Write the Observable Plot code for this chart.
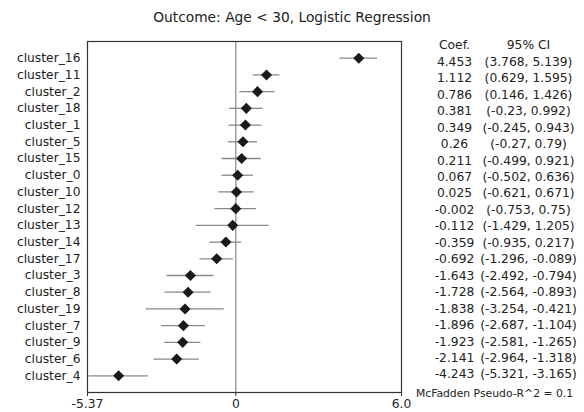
<!DOCTYPE html>
<html>
<head>
<meta charset="utf-8">
<script src="https://cdn.jsdelivr.net/npm/d3@7"></script>
<script src="https://cdn.jsdelivr.net/npm/@observablehq/plot@0.6"></script>
<style>
  html, body { margin: 0; padding: 0; background: #fff; }
  #wrap { position: relative; width: 584px; height: 412px; font-family: "DejaVu Sans", sans-serif; color: #222; }
  #title { height: 33px; line-height: 34px; text-align: center; font-size: 13.8px; }
  #main, #table { position: absolute; top: 33px; }
  #main { left: 0; }
  #table { left: 401px; }
  svg { overflow: visible; }
</style>
</head>
<body>
<div id="wrap">
  <div id="title">Outcome: Age &lt; 30, Logistic Regression</div>
  <div id="main"></div>
  <div id="table"></div>
</div>
<script>
const clusters = ["cluster_16","cluster_11","cluster_2","cluster_18","cluster_1","cluster_5","cluster_15","cluster_0","cluster_10","cluster_12","cluster_13","cluster_14","cluster_17","cluster_3","cluster_8","cluster_19","cluster_7","cluster_9","cluster_6","cluster_4"];
const coef  = [4.453, 1.112, 0.786, 0.381, 0.349, 0.26, 0.211, 0.067, 0.025, -0.002, -0.112, -0.359, -0.692, -1.643, -1.728, -1.838, -1.896, -1.923, -2.141, -4.243];
const ciLow = [3.768, 0.629, 0.146, -0.23, -0.245, -0.27, -0.499, -0.502, -0.621, -0.753, -1.429, -0.935, -1.296, -2.492, -2.564, -3.254, -2.687, -2.581, -2.964, -5.321];
const ciHigh= [5.139, 1.595, 1.426, 0.992, 0.943, 0.79, 0.921, 0.636, 0.671, 0.75, 1.205, 0.217, -0.089, -0.794, -0.893, -0.421, -1.104, -1.265, -1.318, -3.165];
const xDomain = [-5.37, 6.0];
const xTicks = [-5.37, 0, 6.0];
const xTickLabels = ["-5.37", "0", "6.0"];
const tableHeaders = ["Coef.", "95% CI"];
const footnote = "McFadden Pseudo-R^2 = 0.1";

const rows = clusters.map((c, i) => ({cluster: c, coef: coef[i], lo: ciLow[i], hi: ciHigh[i]}));

const font = "DejaVu Sans, sans-serif";
const tickFmt = (d) => xTickLabels[xTicks.indexOf(d)];

const main = Plot.plot({
  width: 584,
  height: 379,
  marginLeft: 87,
  marginRight: 183,
  marginTop: 8,
  marginBottom: 20,
  style: {fontFamily: font, fontSize: "12.3px", color: "#222", background: "transparent"},
  x: {domain: xDomain, ticks: xTicks, tickFormat: tickFmt, label: null},
  y: {type: "point", domain: clusters, padding: 1, round: false, label: null},
  marks: [
    Plot.ruleX([0], {stroke: "#888", strokeWidth: 1.2}),
    Plot.ruleY(rows, {y: "cluster", x1: "lo", x2: "hi", stroke: "#888", strokeWidth: 1.3}),
    Plot.dot(rows, {x: "coef", y: "cluster", symbol: "diamond2", r: 5, fill: "#1a1a1a", stroke: "none"}),
    Plot.frame({stroke: "#333", strokeWidth: 1.2}),
    Plot.axisX({ticks: xTicks, tickFormat: tickFmt, tickSize: 4, tickPadding: 3, stroke: "#333", fill: "#222", fontSize: 12.3}),
    Plot.axisY({tickSize: 0, tickPadding: 7, fill: "#222", fontSize: 12.3})
  ]
});
document.getElementById("main").appendChild(main);

// Table to the right
const rowKeys = ["header", ...clusters];
const tableData = [];
tableHeaders.forEach((h) => tableData.push({row: "header", col: h, text: h}));
rows.forEach((r) => {
  tableData.push({row: r.cluster, col: tableHeaders[0], text: String(r.coef)});
  tableData.push({row: r.cluster, col: tableHeaders[1], text: "(" + String(r.lo) + ", " + String(r.hi) + ")"});
});

const table = Plot.plot({
  width: 183,
  height: 379,
  marginLeft: 53,
  marginRight: 56,
  marginTop: 12,
  marginBottom: 38,
  style: {fontFamily: font, background: "transparent"},
  x: {type: "point", domain: tableHeaders, padding: 0, round: false, axis: null},
  y: {type: "point", domain: rowKeys, padding: 0, round: false, axis: null},
  marks: [
    Plot.text(tableData, {x: "col", y: "row", text: "text", textAnchor: "middle", fontSize: 12.3, fill: "#222"}),
    Plot.text([footnote], {frameAnchor: "bottom", dy: 22, dx: 3, text: (d) => d, textAnchor: "middle", fontSize: 10.8, fill: "#222"})
  ]
});
document.getElementById("table").appendChild(table);
</script>
</body>
</html>
